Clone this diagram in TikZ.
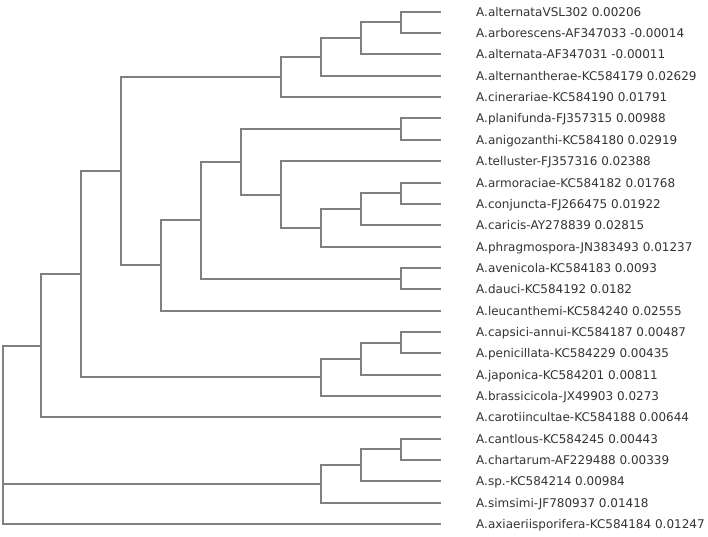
\documentclass[tikz,border=0pt]{standalone}
\usepackage{fontspec}
\setmainfont{DejaVu Sans}
\usetikzlibrary{positioning}
\definecolor{treegray}{RGB}{128,128,128}
\definecolor{labelgray}{RGB}{51,51,51}

\begin{document}
\begin{tikzpicture}[
    x=1pt, y=-21.35pt,
    tree branch/.style={
      draw=treegray,
      line width=2pt
    },
    leaf label/.style={
      inner sep=0pt,
      text height=9pt,
      text depth=0pt,
      text=labelgray,
      font=\fontsize{12}{14}\selectfont
    }
  ]
  \useasboundingbox (0,-0.548) rectangle (708,24.604);

  % leaf tips and their names
  \coordinate (t1) at (441,0);   \node[leaf label, right=35pt of t1] (l1) {A.alternataVSL302 0.00206};
  \coordinate (t2) at (441,1);   \node[leaf label, right=35pt of t2] (l2) {A.arborescens-AF347033 -0.00014};
  \coordinate (t3) at (441,2);   \node[leaf label, right=35pt of t3] (l3) {A.alternata-AF347031 -0.00011};
  \coordinate (t4) at (441,3);   \node[leaf label, right=35pt of t4] (l4) {A.alternantherae-KC584179 0.02629};
  \coordinate (t5) at (441,4);   \node[leaf label, right=35pt of t5] (l5) {A.cinerariae-KC584190 0.01791};
  \coordinate (t6) at (441,5);   \node[leaf label, right=35pt of t6] (l6) {A.planifunda-FJ357315 0.00988};
  \coordinate (t7) at (441,6);   \node[leaf label, right=35pt of t7] (l7) {A.anigozanthi-KC584180 0.02919};
  \coordinate (t8) at (441,7);   \node[leaf label, right=35pt of t8] (l8) {A.telluster-FJ357316 0.02388};
  \coordinate (t9) at (441,8);   \node[leaf label, right=35pt of t9] (l9) {A.armoraciae-KC584182 0.01768};
  \coordinate (t10) at (441,9);  \node[leaf label, right=35pt of t10] (l10) {A.conjuncta-FJ266475 0.01922};
  \coordinate (t11) at (441,10); \node[leaf label, right=35pt of t11] (l11) {A.caricis-AY278839 0.02815};
  \coordinate (t12) at (441,11); \node[leaf label, right=35pt of t12] (l12) {A.phragmospora-JN383493 0.01237};
  \coordinate (t13) at (441,12); \node[leaf label, right=35pt of t13] (l13) {A.avenicola-KC584183 0.0093};
  \coordinate (t14) at (441,13); \node[leaf label, right=35pt of t14] (l14) {A.dauci-KC584192 0.0182};
  \coordinate (t15) at (441,14); \node[leaf label, right=35pt of t15] (l15) {A.leucanthemi-KC584240 0.02555};
  \coordinate (t16) at (441,15); \node[leaf label, right=35pt of t16] (l16) {A.capsici-annui-KC584187 0.00487};
  \coordinate (t17) at (441,16); \node[leaf label, right=35pt of t17] (l17) {A.penicillata-KC584229 0.00435};
  \coordinate (t18) at (441,17); \node[leaf label, right=35pt of t18] (l18) {A.japonica-KC584201 0.00811};
  \coordinate (t19) at (441,18); \node[leaf label, right=35pt of t19] (l19) {A.brassicicola-JX49903 0.0273};
  \coordinate (t20) at (441,19); \node[leaf label, right=35pt of t20] (l20) {A.carotiincultae-KC584188 0.00644};
  \coordinate (t21) at (441,20); \node[leaf label, right=35pt of t21] (l21) {A.cantlous-KC584245 0.00443};
  \coordinate (t22) at (441,21); \node[leaf label, right=35pt of t22] (l22) {A.chartarum-AF229488 0.00339};
  \coordinate (t23) at (441,22); \node[leaf label, right=35pt of t23] (l23) {A.sp.-KC584214 0.00984};
  \coordinate (t24) at (441,23); \node[leaf label, right=35pt of t24] (l24) {A.simsimi-JF780937 0.01418};
  \coordinate (t25) at (441,24); \node[leaf label, right=35pt of t25] (l25) {A.axiaeriisporifera-KC584184 0.01247};

  % inner nodes
  \coordinate (a1) at (401,0.5);
  \coordinate (a2) at (361,1.25);
  \coordinate (a3) at (321,2.125);
  \coordinate (a4) at (281,3.0625);
  \coordinate (b1) at (401,5.5);
  \coordinate (b2) at (401,8.5);
  \coordinate (b3) at (361,9.25);
  \coordinate (b4) at (321,10.125);
  \coordinate (b5) at (281,8.5625);
  \coordinate (b6) at (241,7.0312);
  \coordinate (b7) at (401,12.5);
  \coordinate (b8) at (201,9.7656);
  \coordinate (b9) at (161,11.8828);
  \coordinate (c1) at (121,7.4727);
  \coordinate (d1) at (401,15.5);
  \coordinate (d2) at (361,16.25);
  \coordinate (d3) at (321,17.125);
  \coordinate (c2) at (81,12.2988);
  \coordinate (c3) at (41,15.6494);
  \coordinate (e1) at (401,20.5);
  \coordinate (e2) at (361,21.25);
  \coordinate (e3) at (321,22.125);
  \coordinate (root) at (2.7,19.8);

  % branches
  \draw[tree branch] (a1) |- (t1) (a1) |- (t2);
  \draw[tree branch] (a2) |- (a1) (a2) |- (t3);
  \draw[tree branch] (a3) |- (a2) (a3) |- (t4);
  \draw[tree branch] (a4) |- (a3) (a4) |- (t5);
  \draw[tree branch] (b1) |- (t6) (b1) |- (t7);
  \draw[tree branch] (b2) |- (t9) (b2) |- (t10);
  \draw[tree branch] (b3) |- (b2) (b3) |- (t11);
  \draw[tree branch] (b4) |- (b3) (b4) |- (t12);
  \draw[tree branch] (b5) |- (t8) (b5) |- (b4);
  \draw[tree branch] (b6) |- (b1) (b6) |- (b5);
  \draw[tree branch] (b7) |- (t13) (b7) |- (t14);
  \draw[tree branch] (b8) |- (b6) (b8) |- (b7);
  \draw[tree branch] (b9) |- (b8) (b9) |- (t15);
  \draw[tree branch] (c1) |- (a4) (c1) |- (b9);
  \draw[tree branch] (d1) |- (t16) (d1) |- (t17);
  \draw[tree branch] (d2) |- (d1) (d2) |- (t18);
  \draw[tree branch] (d3) |- (d2) (d3) |- (t19);
  \draw[tree branch] (c2) |- (c1) (c2) |- (d3);
  \draw[tree branch] (c3) |- (c2) (c3) |- (t20);
  \draw[tree branch] (e1) |- (t21) (e1) |- (t22);
  \draw[tree branch] (e2) |- (e1) (e2) |- (t23);
  \draw[tree branch] (e3) |- (e2) (e3) |- (t24);
  \draw[tree branch] (root) |- (c3) (root) |- (e3) (root) |- (t25);

\end{tikzpicture}
\end{document}
